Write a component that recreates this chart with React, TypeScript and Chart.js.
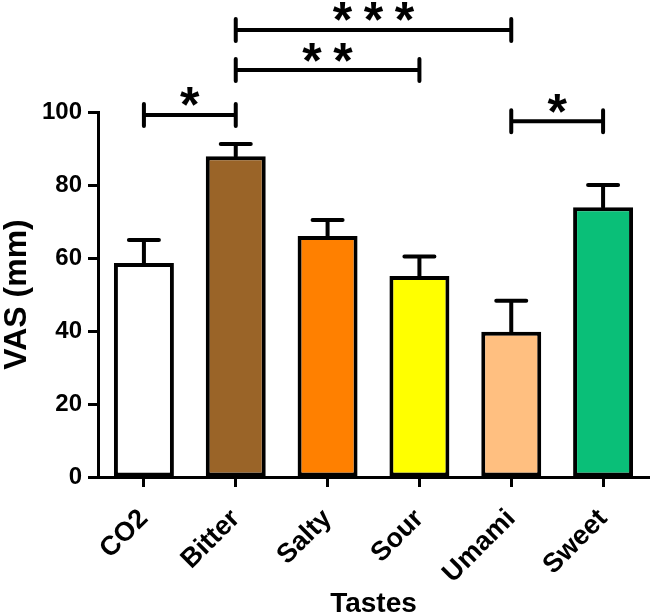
import React, { useEffect, useRef } from 'react';
import { Chart, registerables } from 'chart.js';

Chart.register(...registerables);

const categories = ['CO2', 'Bitter', 'Salty', 'Sour', 'Umami', 'Sweet'];
const means = [58.6, 87.9, 66.0, 55.1, 39.8, 73.9];
const errors = [6.3, 3.3, 4.4, 5.3, 8.5, 6.1];
const barColors = ['#FFFFFF', '#9A6428', '#FF8000', '#FFFF00', '#FFBF80', '#0ABF78'];

const sigFrom = [0, 1, 1, 4];
const sigTo = [1, 3, 4, 5];
const sigLevel = [99.2, 111.5, 122.5, 97.5];
const sigStars = ['*', '**', '***', '*'];

const yTitle = 'VAS (mm)';
const xTitle = 'Tastes';

const FONT = '"Liberation Sans", Arial, sans-serif';

const annotations = {
  id: 'annotations',
  afterDatasetsDraw(chart: any) {
    const ctx = chart.ctx;
    const xs = chart.scales.x;
    const ys = chart.scales.y;
    const meta = chart.getDatasetMeta(0);
    ctx.save();
    ctx.strokeStyle = '#000';
    ctx.fillStyle = '#000';
    ctx.lineWidth = 4;
    ctx.lineCap = 'round';
    // error bars (upper only)
    meta.data.forEach((bar: any, i: number) => {
      const top = ys.getPixelForValue(means[i]);
      const e = ys.getPixelForValue(means[i] + errors[i]);
      ctx.beginPath();
      ctx.moveTo(bar.x, top);
      ctx.lineTo(bar.x, e);
      ctx.moveTo(bar.x - 15, e);
      ctx.lineTo(bar.x + 15, e);
      ctx.stroke();
    });
    // significance brackets
    ctx.font = 'bold 50px ' + FONT;
    ctx.textAlign = 'center';
    ctx.textBaseline = 'alphabetic';
    const m = ctx.measureText('*');
    const A = m.actualBoundingBoxAscent;
    const D = m.actualBoundingBoxDescent;
    sigFrom.forEach((f, k) => {
      const x1 = xs.getPixelForValue(f);
      const x2 = xs.getPixelForValue(sigTo[k]);
      const yy = ys.getPixelForValue(sigLevel[k]);
      ctx.beginPath();
      ctx.lineCap = 'butt';
      ctx.moveTo(x1, yy);
      ctx.lineTo(x2, yy);
      ctx.stroke();
      ctx.lineCap = 'round';
      ctx.beginPath();
      ctx.moveTo(x1, yy - 11);
      ctx.lineTo(x1, yy + 11);
      ctx.moveTo(x2, yy - 11);
      ctx.lineTo(x2, yy + 11);
      ctx.stroke();
      const n = sigStars[k].length;
      const cx = (x1 + x2) / 2;
      const cy = yy - 18;
      const base = cy - (D - A) / 2;
      for (let s = 0; s < n; s++) {
        const sx = cx + (s - (n - 1) / 2) * 31;
        ctx.fillText('*', sx, base);
      }
    });
    ctx.restore();
  },
};

export default function App() {
  const ref = useRef<HTMLCanvasElement | null>(null);
  useEffect(() => {
    document.body.style.margin = '0';
    const canvas = ref.current;
    if (!canvas) return;
    const chart = new Chart(canvas, {
      type: 'bar',
      data: {
        labels: categories,
        datasets: [
          {
            data: means,
            backgroundColor: barColors,
            borderColor: '#000',
            borderWidth: 4,
            borderSkipped: false,
            categoryPercentage: 1,
            barPercentage: 0.653,
          },
        ],
      },
      options: {
        responsive: false,
        animation: false,
        layout: { padding: { top: 112, left: 0, right: 1, bottom: 0 } },
        plugins: { legend: { display: false }, tooltip: { enabled: false } },
        scales: {
          x: {
            afterFit(scale: any) {
              scale.height = 136;
            },
            grid: {
              offset: false,
              drawOnChartArea: false,
              drawTicks: true,
              tickLength: 10,
              tickWidth: 3,
              tickColor: '#000',
            },
            border: { display: true, color: '#000', width: 3 },
            ticks: {
              color: '#000',
              font: { family: FONT, size: 27, weight: 'bold' },
              minRotation: 45,
              maxRotation: 45,
              autoSkip: false,
              padding: 16,
            },
            title: {
              display: true,
              text: xTitle,
              color: '#000',
              font: { family: FONT, size: 28, weight: 'bold', lineHeight: 0.65 },
              padding: { top: 0, bottom: 0 },
            },
          },
          y: {
            min: 0,
            max: 100,
            afterFit(scale: any) {
              scale.width = 98;
            },
            grid: {
              drawOnChartArea: false,
              drawTicks: true,
              tickLength: 10,
              tickWidth: 3,
              tickColor: '#000',
            },
            border: { display: true, color: '#000', width: 3 },
            ticks: {
              stepSize: 20,
              color: '#000',
              font: { family: FONT, size: 24, weight: 'bold' },
              padding: 6,
            },
            title: {
              display: true,
              text: yTitle,
              color: '#000',
              font: { family: FONT, size: 32, weight: 'bold', lineHeight: 1.1 },
              padding: { top: 0, bottom: 0 },
            },
          },
        },
      },
      plugins: [annotations],
    } as any);
    return () => chart.destroy();
  }, []);
  return (
    <div style={{ width: 650, height: 613 }}>
      <canvas ref={ref} width={650} height={613} style={{ display: 'block' }} />
    </div>
  );
}
